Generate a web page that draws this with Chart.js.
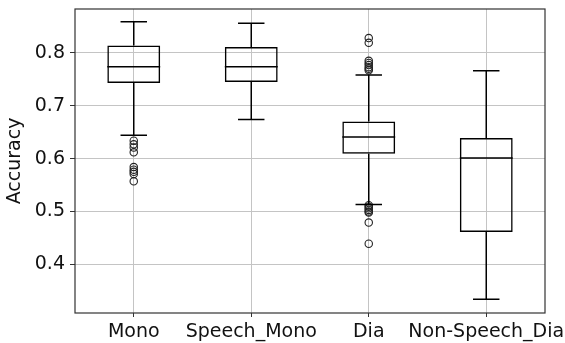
<!DOCTYPE html>
<html>
<head>
<meta charset="utf-8">
<script src="https://cdn.jsdelivr.net/npm/chart.js@4/dist/chart.umd.min.js"></script>
<style>
  html, body { margin: 0; padding: 0; background: #fff; }
  #wrap { width: 565px; height: 343px; }
</style>
</head>
<body>
<div id="wrap"><canvas id="c" width="565" height="343"></canvas></div>
<script>
// Box plot summary per group
const categories  = ['Mono', 'Speech_Mono', 'Dia', 'Non-Speech_Dia'];
const whiskerLow  = [0.644, 0.674, 0.513, 0.334];
const quartile1   = [0.743, 0.745, 0.609, 0.461];
const medians     = [0.774, 0.774, 0.641, 0.601];
const quartile3   = [0.814, 0.811, 0.670, 0.639];
const whiskerHigh = [0.859, 0.856, 0.758, 0.766];

// Outliers beyond the whiskers
const monoOutliers = [0.634, 0.627, 0.621, 0.612, 0.584, 0.579, 0.575, 0.571, 0.557];
const diaOutliers  = [0.828, 0.819, 0.785, 0.781, 0.777, 0.773, 0.770, 0.767,
                      0.512, 0.509, 0.506, 0.503, 0.500, 0.498, 0.479, 0.439];

const yTicks = [0.4, 0.5, 0.6, 0.7, 0.8];
const yMin = 0.308, yMax = 0.883;

const FONT = 'DejaVu Sans';
const FONT_SIZE = 19;
const INK = '#111';

const outlierPoints = [
  ...monoOutliers.map(v => ({ x: 'Mono', y: v })),
  ...diaOutliers.map(v => ({ x: 'Dia', y: v }))
];

// Whiskers, caps and median lines drawn with the chart's own scales
const whiskerPlugin = {
  id: 'whiskers',
  afterDatasetsDraw(chart) {
    const { ctx, scales: { x, y } } = chart;
    const boxes = chart.getDatasetMeta(0).data;
    ctx.save();
    ctx.strokeStyle = '#000';
    ctx.lineWidth = 1.5;
    categories.forEach((cat, i) => {
      const cx = x.getPixelForValue(i);
      const w = boxes[i].width;
      const half = w / 2, capHalf = w / 4;
      const yLo = y.getPixelForValue(whiskerLow[i]);
      const yQ1 = y.getPixelForValue(quartile1[i]);
      const yMed = y.getPixelForValue(medians[i]);
      const yQ3 = y.getPixelForValue(quartile3[i]);
      const yHi = y.getPixelForValue(whiskerHigh[i]);
      ctx.beginPath();
      ctx.moveTo(cx, yQ1); ctx.lineTo(cx, yLo);
      ctx.moveTo(cx, yQ3); ctx.lineTo(cx, yHi);
      ctx.moveTo(cx - capHalf, yLo); ctx.lineTo(cx + capHalf, yLo);
      ctx.moveTo(cx - capHalf, yHi); ctx.lineTo(cx + capHalf, yHi);
      ctx.moveTo(cx - half, yMed); ctx.lineTo(cx + half, yMed);
      ctx.stroke();
    });
    ctx.restore();
  },
  afterDraw(chart) {
    const { ctx, chartArea: a } = chart;
    ctx.save();
    ctx.strokeStyle = '#333';
    ctx.lineWidth = 1.2;
    ctx.strokeRect(a.left, a.top, a.right - a.left, a.bottom - a.top);
    ctx.restore();
  }
};

new Chart(document.getElementById('c'), {
  type: 'bar',
  data: {
    labels: categories,
    datasets: [
      {
        label: 'box',
        data: categories.map((_, i) => [quartile1[i], quartile3[i]]),
        backgroundColor: 'rgba(0,0,0,0)',
        borderColor: '#000',
        borderWidth: 1.5,
        borderSkipped: false,
        categoryPercentage: 1.0,
        barPercentage: 0.45,
        order: 2
      },
      {
        type: 'line',
        label: 'outliers',
        data: outlierPoints,
        showLine: false,
        pointStyle: 'circle',
        pointRadius: 3.7,
        pointBorderWidth: 1.1,
        pointBorderColor: '#222',
        pointBackgroundColor: 'rgba(0,0,0,0)',
        order: 1
      }
    ]
  },
  options: {
    responsive: false,
    animation: false,
    devicePixelRatio: 1,
    layout: { padding: { left: 0, right: 20, top: 9, bottom: 0 } },
    plugins: { legend: { display: false }, tooltip: { enabled: false } },
    scales: {
      x: {
        type: 'category',
        offset: true,
        grid: {
          offset: false,
          color: '#c4c4c4',
          lineWidth: 1,
          drawTicks: true,
          tickLength: 4,
          tickColor: '#333'
        },
        border: { display: false },
        ticks: {
          color: INK,
          font: { family: FONT, size: FONT_SIZE },
          maxRotation: 0,
          minRotation: 0,
          autoSkip: false,
          padding: 4
        },
        afterFit(scale) {
          scale.height = 30;
          scale.paddingLeft = 0;
          scale.paddingRight = 0;
        }
      },
      y: {
        min: yMin,
        max: yMax,
        grid: {
          color: '#c4c4c4',
          lineWidth: 1,
          drawTicks: true,
          tickLength: 5,
          tickColor: '#333'
        },
        border: { display: false },
        afterBuildTicks(scale) {
          scale.ticks = yTicks.map(v => ({ value: v }));
        },
        ticks: {
          color: INK,
          font: { family: FONT, size: FONT_SIZE },
          padding: 5,
          callback: v => v.toFixed(1)
        },
        title: {
          display: true,
          text: 'Accuracy',
          color: INK,
          font: { family: FONT, size: FONT_SIZE },
          padding: { top: 4, bottom: 0 }
        },
        afterFit(scale) {
          scale.width = 75;
          scale.paddingTop = 0;
          scale.paddingBottom = 0;
        }
      }
    }
  },
  plugins: [whiskerPlugin]
});
</script>
</body>
</html>
